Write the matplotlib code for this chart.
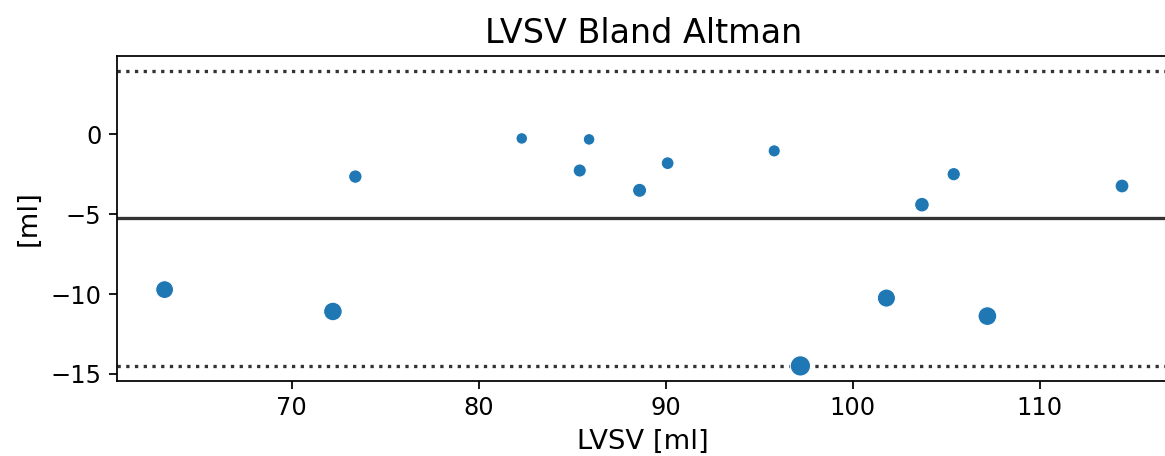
import numpy as np
import matplotlib as mpl
mpl.use('Agg')
import matplotlib.pyplot as plt

# mean LVSV of the two methods and their difference
lvsv_mean = [63.2, 72.2, 73.4, 82.3, 85.9, 85.4, 88.6, 90.1, 95.8,
             97.2, 101.8, 103.7, 105.4, 107.2, 114.4]
lvsv_diff = [-9.72, -11.09, -2.64, -0.25, -0.31, -2.26, -3.50, -1.80, -1.03,
             -14.50, -10.25, -4.40, -2.49, -11.38, -3.23]

title = "LVSV Bland Altman"
xlabel = "LVSV [ml]"
ylabel = "[ml]"

DPI = 158


def main():
    x = np.array(lvsv_mean)
    d = np.array(lvsv_diff)
    md = d.mean()
    sd = d.std(ddof=1)

    # marker size grows with |difference|, like seaborn's size mapping
    a = np.abs(d)
    smin, smax = 28, 86
    sizes = smin + (a - a.min()) / (a.max() - a.min()) * (smax - smin)

    fig = plt.figure(figsize=(1165 / DPI, 456 / DPI), dpi=DPI)
    ax = fig.add_axes([0.1002, 0.1645, 0.904, 0.7133])
    ax.scatter(x, d, s=sizes, color="#1f77b4", edgecolor="white",
               linewidth=0.5, zorder=3)
    ax.axhline(md, color="0.2", linewidth=1.5, zorder=2)
    ax.axhline(md + 1.96 * sd, color="0.2", linewidth=1.5, linestyle=":", zorder=2)
    ax.axhline(md - 1.96 * sd, color="0.2", linewidth=1.5, linestyle=":", zorder=2)

    ax.set_xticks([70, 80, 90, 100, 110])
    ax.set_yticks([0, -5, -10, -15])
    ax.tick_params(labelsize=11)
    ax.set_title(title, fontsize=15.2)
    ax.set_xlabel(xlabel, fontsize=12.5)
    ax.set_ylabel(ylabel, fontsize=12.5)
    ax.margins(x=0.05, y=0.05)
    x0, x1 = x.min(), x.max()
    pad = 0.05 * (x1 - x0)
    ax.set_xlim(x0 - pad, x1 + pad)

    fig.savefig("out.png", dpi=DPI)
    plt.close(fig)


if __name__ == "__main__":
    main()
